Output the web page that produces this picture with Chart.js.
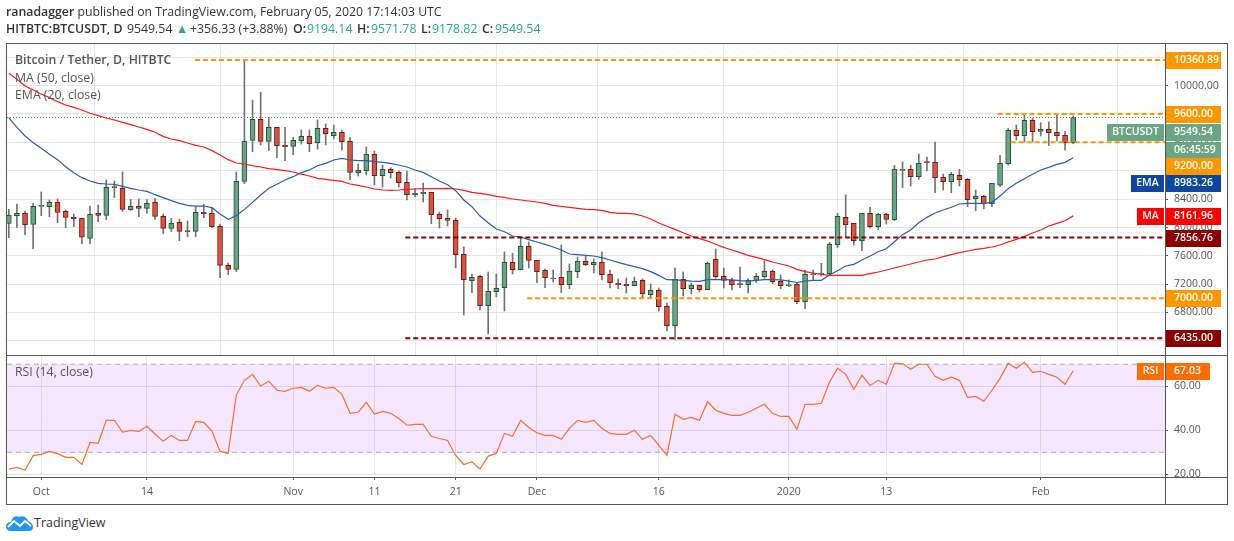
<!DOCTYPE html>
<html>
<head>
<meta charset="utf-8">
<title>BTCUSDT</title>
<script src="https://cdn.jsdelivr.net/npm/chart.js@4"></script>
<style>
  html, body { margin: 0; padding: 0; background: #fff; }
  body { width: 1234px; height: 541px; position: relative; overflow: hidden; font-family: "Open Sans", sans-serif; color: #333; }
  canvas { position: absolute; left: 0; }
  .txt { position: absolute; white-space: nowrap; font-size: 12.3px; line-height: 16px; }
  .legend { color: #555; }
  .line { position: absolute; background: #555; }
  b { font-weight: 600; }
  .up { color: #26a69a; }
</style>
</head>
<body>
<canvas id="price-chart" width="1234" height="356" style="top:0"></canvas>
<canvas id="rsi-chart" width="1234" height="150" style="top:355px"></canvas>

<div style="position:absolute;left:1166px;top:478px;width:60px;height:25px;background:#fff"></div>
<div class="line" style="left:6px;top:43px;width:1222px;height:1px"></div>
<div class="line" style="left:6px;top:504px;width:1222px;height:1px"></div>
<div class="line" style="left:6px;top:43px;width:1px;height:462px"></div>
<div class="line" style="left:1227px;top:43px;width:1px;height:462px"></div>
<div class="line" style="left:1165px;top:43px;width:1px;height:461px"></div>
<div class="line" style="left:6px;top:355px;width:1222px;height:1px"></div>
<div class="line" style="left:6px;top:477px;width:1222px;height:1px"></div>

<div class="txt" style="left:6px;top:4px"><b>ranadagger</b> published on TradingView.com, February 05, 2020 17:14:03 UTC</div>
<div class="txt" style="left:6px;top:21px"><b>HITBTC:BTCUSDT, D</b></div>
<div class="txt" style="left:127px;top:21px">9549.54</div>
<div class="txt up" style="left:176px;top:21px">▲</div>
<div class="txt" style="left:190px;top:21px">+356.33 (+3.88%)</div>
<div class="txt" style="left:293px;top:21px"><b>O:</b></div>
<div class="txt up" style="left:307px;top:21px">9194.14</div>
<div class="txt" style="left:357px;top:21px"><b>H:</b></div>
<div class="txt up" style="left:371px;top:21px">9571.78</div>
<div class="txt" style="left:421px;top:21px"><b>L:</b></div>
<div class="txt up" style="left:432px;top:21px">9178.82</div>
<div class="txt" style="left:482px;top:21px"><b>C:</b></div>
<div class="txt up" style="left:495px;top:21px">9549.54</div>
<div class="txt legend" style="left:15px;top:52px"><b>Bitcoin / Tether, D, HITBTC</b></div>
<div class="txt legend" style="left:15px;top:70px">MA (50, close)</div>
<div class="txt legend" style="left:15px;top:87px">EMA (20, close)</div>
<div class="txt legend" style="left:15px;top:364px">RSI (14, close)</div>

<svg style="position:absolute;left:6px;top:514px" width="27" height="17" viewBox="0 0 27 17">
  <path d="M0 13 C0 9 3 8 5 8 C6 3 10 1 13 3 C16 1 21 3 22 7 C25 8 27 10 27 13 C27 15 26 17 23 17 L4 17 C2 17 0 15 0 13 Z" fill="#2196f3"/>
  <path d="M2 13 L8 7 L14 12 L19 7 L25 12" fill="none" stroke="#fff" stroke-width="2"/>
</svg>
<div class="txt" style="left:34px;top:515px;font-size:12.5px">TradingView</div>

<script>
// Daily candles from Sep 27 2019 to Feb 5 2020
const candleOpen = [
    8057, 8165, 8198, 8043, 8297, 8292, 8353, 8226, 8142, 8127, 7845, 8198,
    8170, 8569, 8555, 8250, 8297, 8269, 8353, 8156, 7986, 8071, 7944, 7944,
    8212, 8198, 8015, 7464, 7408, 8649, 9228, 9524, 9214, 9411, 9157, 9143,
    9223, 9284, 9195, 9397, 9294, 9341, 9214, 8772, 8800, 9030, 8729, 8819,
    8776, 8635, 8461, 8475, 8494, 8184, 8127, 8099, 7620, 7248, 7309, 6896,
    7093, 7149, 7507, 7403, 7733, 7535, 7394, 7272, 7295, 7192, 7375, 7521,
    7474, 7507, 7337, 7210, 7196, 7178, 7253, 7051, 7112, 6886, 6613, 7267,
    7135, 7182, 7121, 7549, 7309, 7253, 7196, 7192, 7253, 7305, 7380, 7239,
    7178, 7196, 6952, 7333, 7342, 7347, 7756, 8142, 8057, 7812, 8198, 8010,
    8184, 8108, 8804, 8818, 8715, 8922, 8917, 8706, 8645, 8734, 8678, 8405,
    8438, 8334, 8597, 8898, 9369, 9294, 9510, 9355, 9383, 9340, 9298, 9194.14
];
const candleHigh = [
    8254, 8330, 8226, 8339, 8499, 8386, 8400, 8245, 8189, 8130, 8301, 8315,
    8668, 8654, 8781, 8395, 8400, 8391, 8410, 8189, 8127, 8118, 8090, 8292,
    8325, 8269, 8048, 7497, 8781, 10360.89, 9797, 9905, 9547, 9411, 9411, 9270,
    9373, 9373, 9515, 9458, 9444, 9373, 9265, 8894, 9134, 9077, 8880, 8842,
    8795, 8795, 8551, 8626, 8494, 8217, 8245, 8132, 7723, 7342, 7323, 7370,
    7342, 7653, 7634, 7869, 7794, 7535, 7413, 7399, 7751, 7483, 7582, 7596,
    7554, 7653, 7399, 7272, 7286, 7300, 7272, 7201, 7145, 6933, 7427, 7370,
    7215, 7182, 7507, 7695, 7427, 7286, 7441, 7276, 7352, 7526, 7399, 7328,
    7258, 7220, 7394, 7399, 7493, 7789, 8198, 8457, 8057, 8198, 8283, 8198,
    8198, 8875, 8922, 8875, 9035, 8992, 9204, 8753, 8776, 8818, 8692, 8527,
    8452, 8621, 9016, 9397, 9444, 9594, 9538, 9477, 9486, 9608, 9354, 9571.78
];
const candleLow = [
    7855, 7996, 7897, 7700, 8165, 8151, 8066, 7996, 8010, 7770, 7770, 8080,
    8109, 8419, 8226, 8240, 8151, 8198, 8113, 7911, 7939, 7812, 7869, 7869,
    8137, 8000, 7290, 7333, 7375, 8617, 9068, 9162, 9082, 8983, 8941, 9026,
    9176, 9068, 9105, 9162, 9247, 9091, 8668, 8725, 8739, 8598, 8569, 8696,
    8569, 8386, 8433, 8358, 8052, 7991, 8019, 7427, 6764, 7079, 6834, 6496,
    7022, 6820, 7342, 7400, 7427, 7220, 7149, 7229, 7079, 7135, 7290, 7460,
    7356, 7258, 7145, 7135, 7074, 7175, 7008, 7008, 6820, 6538, 6421, 7032,
    7060, 7088, 7121, 7281, 7145, 7116, 7149, 7074, 7220, 7281, 7206, 7135,
    7163, 6924, 6853, 7262, 7314, 7314, 7714, 7859, 7751, 7671, 7991, 7968,
    8047, 8094, 8560, 8583, 8678, 8795, 8489, 8527, 8489, 8583, 8292, 8235,
    8264, 8292, 8574, 8880, 9232, 9204, 9204, 9289, 9152, 9218, 9091, 9178.82
];
const candleClose = [
    8170, 8198, 8038, 8297, 8301, 8353, 8212, 8142, 8123, 7860, 8184, 8170,
    8565, 8560, 8254, 8297, 8269, 8339, 8156, 7986, 8057, 7944, 7939, 8212,
    8193, 8010, 7464, 7408, 8649, 9214, 9524, 9214, 9411, 9153, 9138, 9228,
    9284, 9181, 9397, 9322, 9341, 9209, 8776, 8805, 9030, 8729, 8819, 8772,
    8631, 8461, 8480, 8494, 8179, 8123, 8099, 7615, 7262, 7295, 6896, 7098,
    7140, 7507, 7403, 7733, 7535, 7375, 7290, 7286, 7192, 7380, 7521, 7474,
    7507, 7333, 7220, 7187, 7178, 7239, 7065, 7112, 6881, 6613, 7267, 7135,
    7182, 7121, 7493, 7305, 7253, 7192, 7192, 7253, 7309, 7380, 7234, 7178,
    7182, 6952, 7337, 7342, 7352, 7761, 8156, 8038, 7812, 8198, 8010, 8184,
    8113, 8818, 8818, 8715, 8903, 8913, 8701, 8645, 8748, 8673, 8391, 8438,
    8334, 8621, 8903, 9369, 9294, 9510, 9350, 9383, 9336, 9294, 9195, 9549.54
];
const ma50 = [
    10173, 10088, 9994, 9938, 9881, 9830, 9773, 9726, 9693, 9656, 9609, 9576,
    9543, 9515, 9482, 9449, 9416, 9383, 9341, 9284, 9247, 9223, 9190, 9157,
    9134, 9082, 9021, 8955, 8908, 8894, 8870, 8852, 8828, 8814, 8800, 8781,
    8750, 8725, 8692, 8678, 8663, 8649, 8612, 8593, 8569, 8541, 8527, 8522,
    8527, 8537, 8541, 8546, 8546, 8546, 8551, 8541, 8522, 8494, 8480, 8461,
    8438, 8424, 8400, 8386, 8372, 8358, 8339, 8311, 8297, 8283, 8268, 8254,
    8250, 8240, 8212, 8198, 8198, 8189, 8160, 8118, 8062, 8015, 7972, 7925,
    7878, 7841, 7808, 7761, 7718, 7681, 7643, 7605, 7577, 7544, 7511, 7483,
    7455, 7408, 7375, 7356, 7337, 7323, 7323, 7323, 7323, 7323, 7347, 7370,
    7399, 7427, 7455, 7483, 7511, 7540, 7554, 7587, 7615, 7643, 7667, 7690,
    7704, 7723, 7751, 7793, 7831, 7873, 7920, 7963, 8019, 8057, 8094, 8161.96
];
const ema20 = [
    9547, 9411, 9289, 9195, 9115, 9030, 8955, 8856, 8772, 8701, 8654, 8621,
    8612, 8607, 8579, 8551, 8527, 8508, 8461, 8419, 8377, 8339, 8311, 8301,
    8301, 8278, 8189, 8113, 8165, 8254, 8353, 8457, 8551, 8607, 8668, 8715,
    8772, 8809, 8870, 8903, 8950, 8974, 8950, 8941, 8941, 8927, 8917, 8903,
    8880, 8852, 8809, 8776, 8715, 8654, 8602, 8518, 8386, 8292, 8160, 8066,
    7977, 7939, 7878, 7864, 7827, 7794, 7761, 7723, 7681, 7624, 7615, 7605,
    7596, 7573, 7540, 7507, 7474, 7446, 7417, 7375, 7323, 7262, 7258, 7253,
    7243, 7239, 7262, 7262, 7262, 7258, 7248, 7243, 7253, 7262, 7262, 7258,
    7243, 7220, 7243, 7253, 7253, 7328, 7389, 7455, 7478, 7540, 7595, 7657,
    7699, 7798, 7897, 7963, 8066, 8141, 8203, 8245, 8283, 8330, 8339, 8339,
    8339, 8353, 8442, 8546, 8621, 8687, 8748, 8809, 8847, 8889, 8917, 8983.26
];
const rsi14 = [
    22.4, 23.2, 22.0, 28.5, 29.1, 30.4, 29.4, 27.7, 27.7, 24.5, 34.5, 34.1,
    44.5, 44.5, 39.2, 40.0, 39.5, 41.8, 38.3, 35.0, 37.7, 35.4, 35.4, 44.1,
    43.6, 39.7, 30.4, 29.5, 56.0, 62.7, 65.4, 60.1, 62.3, 58.2, 57.7, 59.1,
    59.5, 57.7, 60.4, 59.1, 59.5, 56.3, 47.7, 48.2, 52.7, 47.4, 48.6, 47.7,
    45.4, 42.3, 42.7, 42.7, 37.3, 36.3, 35.4, 28.6, 24.5, 25.7, 22.4, 28.3,
    29.5, 38.6, 37.3, 44.5, 41.3, 38.9, 37.7, 37.7, 35.9, 40.9, 44.5, 43.6,
    44.5, 40.9, 38.6, 38.2, 38.2, 40.0, 35.9, 37.7, 33.2, 28.6, 47.3, 45.0,
    45.9, 44.5, 53.0, 49.1, 47.7, 46.8, 46.8, 48.2, 50.0, 51.8, 47.7, 46.3,
    46.3, 40.4, 51.8, 51.8, 52.3, 61.8, 68.2, 65.4, 58.6, 65.0, 60.4, 62.7,
    60.9, 70.4, 70.3, 67.7, 70.0, 70.0, 64.5, 62.7, 64.1, 62.7, 55.0, 55.4,
    53.2, 58.2, 63.6, 70.4, 68.2, 70.9, 66.3, 66.8, 65.4, 64.1, 60.9, 67.03
];

// Time axis: day index of each labelled tick
const tickDays = [4, 17, 35, 45, 55, 65, 80, 96, 108, 127];
const tickLabels = ['Oct', '14', 'Nov', '11', '21', 'Dec', '16', '2020', '13', 'Feb'];
const priceTicks = [6400, 6800, 7200, 7600, 8000, 8400, 8800, 9200, 9600, 10000, 10400];
const rsiTicks = [20, 40, 60];
const rsiBand = [70, 30];

// Horizontal levels drawn by hand on the chart, and the day where each one starts
const levelPrices = [10360.89, 9600, 9200, 7856.76, 7000, 6435];
const levelStarts = [22.9, 121.7, 123.3, 48.8, 63.8, 48.8];
const levelColors = ['#ff9800', '#ff9800', '#ff9800', '#8b0000', '#ff9800', '#8b0000'];

const lastClose = 9549.54;
const xMin = -0.22;
const xMax = 142.3;
const FONT = '"Open Sans", sans-serif';

function toLine(values) {
    return values.map((v, i) => ({ x: i, y: v }));
}

function levelLine(price, start) {
    return [{ x: start, y: price }, { x: xMax, y: price }];
}

// Price tags on the right axis, shift moves a tag away from its neighbour
const priceTags = [
    { text: '10360.89', value: 10360.89, color: '#ff9800' },
    { text: '9600.00', value: 9600, color: '#ff9800' },
    { text: '9549.54', value: 9549.54, color: '#6ba583', shift: 14, name: 'BTCUSDT', nameLeft: 1107 },
    { text: '06:45:59', value: 9549.54, color: '#6ba583', shift: 32 },
    { text: '9200.00', value: 9200, color: '#ff9800', shift: 24 },
    { text: '8983.26', value: 8983.26, color: '#0d47a1', shift: 25, name: 'EMA', nameLeft: 1131 },
    { text: '8161.96', value: 8161.96, color: '#ff0000', name: 'MA', nameLeft: 1137 },
    { text: '7856.76', value: 7856.76, color: '#8b0000' },
    { text: '7000.00', value: 7000, color: '#ff9800' },
    { text: '6435.00', value: 6435, color: '#8b0000' }
];
const rsiTags = [
    { text: '67.03', value: 67.03, color: '#ff6d00', name: 'RSI', nameLeft: 1137, right: 1210 }
];

function tagPlugin(tags, axisId) {
    return {
        id: 'tags-' + axisId,
        afterDraw(chart) {
            const ctx = chart.ctx;
            const scale = chart.scales[axisId];
            ctx.save();
            ctx.textBaseline = 'middle';
            ctx.font = '600 10.5px ' + FONT;
            tags.forEach(tag => {
                const y = Math.round(scale.getPixelForValue(tag.value)) + (tag.shift || 0);
                ctx.fillStyle = tag.color;
                ctx.fillRect(1166, y - 8, (tag.right || 1221) - 1166, 17);
                ctx.fillStyle = '#fff';
                ctx.textAlign = 'left';
                ctx.fillText(tag.text, 1174, y + 0.5);
                if (tag.name) {
                    ctx.fillStyle = tag.color;
                    ctx.fillRect(tag.nameLeft, y - 8, 1164 - tag.nameLeft, 17);
                    ctx.fillStyle = '#fff';
                    ctx.textAlign = 'center';
                    ctx.fillText(tag.name, (tag.nameLeft + 1164) / 2, y + 0.5);
                }
            });
            ctx.restore();
        }
    };
}

function timeAxis(showLabels) {
    return {
        type: 'linear',
        offset: false,
        min: xMin,
        max: xMax,
        afterBuildTicks(axis) {
            axis.ticks = tickDays.map(d => ({ value: d }));
        },
        afterFit(axis) {
            axis.height = showLabels ? 27 : 0;
            axis.paddingLeft = 0;
            axis.paddingRight = 0;
        },
        grid: { color: '#e6e6e6', drawTicks: showLabels, tickLength: 3, tickColor: '#555' },
        border: { display: false },
        ticks: {
            display: showLabels,
            autoSkip: false,
            maxRotation: 0,
            padding: 6,
            color: '#555',
            font: { family: FONT, size: 10.5 },
            callback: value => tickLabels[tickDays.indexOf(value)]
        }
    };
}

function valueAxis(min, max, ticks, gridColor) {
    return {
        position: 'right',
        min: min,
        max: max,
        afterBuildTicks(axis) {
            axis.ticks = ticks.map(v => ({ value: v }));
        },
        afterFit(axis) {
            axis.width = 62;
            axis.paddingTop = 0;
            axis.paddingBottom = 0;
        },
        grid: { color: gridColor, tickLength: 3, tickColor: '#555' },
        border: { display: false },
        ticks: {
            padding: 6,
            crossAlign: 'near',
            color: '#555',
            font: { family: FONT, size: 10.5 },
            callback: value => value.toFixed(2)
        }
    };
}

const upDay = candleClose.map((c, i) => c >= candleOpen[i]);

const priceChart = new Chart(document.getElementById('price-chart'), {
    type: 'bar',
    data: {
        datasets: [
            ...levelPrices.map((price, n) => ({
                type: 'line',
                data: levelLine(price, levelStarts[n]),
                borderColor: levelColors[n],
                borderWidth: 2,
                borderDash: [5, 3],
                pointRadius: 0,
                order: 1
            })),
            {
                type: 'line',
                data: levelLine(lastClose, xMin),
                borderColor: '#4f8a68',
                borderWidth: 1,
                borderDash: [1, 2],
                pointRadius: 0,
                order: 6
            },
            {
                type: 'line',
                data: toLine(ema20),
                borderColor: '#2a5db0',
                borderWidth: 1.2,
                pointRadius: 0,
                tension: 0,
                order: 2
            },
            {
                type: 'line',
                data: toLine(ma50),
                borderColor: '#ff1a1a',
                borderWidth: 1.2,
                pointRadius: 0,
                tension: 0,
                order: 3
            },
            {
                // body
                data: candleOpen.map((o, i) => ({ x: i, y: [o, candleClose[i]] })),
                grouped: false,
                barThickness: 5,
                minBarLength: 1,
                borderWidth: 1,
                borderSkipped: false,
                backgroundColor: upDay.map(up => up ? '#6ba583' : '#d75442'),
                borderColor: upDay.map(up => up ? '#225437' : '#6f1d12'),
                order: 4
            },
            {
                // wick
                data: candleLow.map((l, i) => ({ x: i, y: [l, candleHigh[i]] })),
                grouped: false,
                barThickness: 1,
                borderWidth: 0,
                backgroundColor: '#737375',
                order: 5
            }
        ]
    },
    options: {
        responsive: false,
        animation: false,
        layout: { padding: { left: 7, right: 7, top: 44, bottom: 1 } },
        plugins: { legend: { display: false }, tooltip: { enabled: false } },
        scales: {
            x: timeAxis(false),
            y: valueAxis(6199.6, 10586.6, priceTicks, '#e6e6e6')
        }
    },
    plugins: [tagPlugin(priceTags, 'y')]
});

const rsiChart = new Chart(document.getElementById('rsi-chart'), {
    type: 'line',
    data: {
        datasets: [
            {
                data: toLine(rsi14),
                borderColor: '#ff6d2a',
                borderWidth: 1.2,
                pointRadius: 0,
                tension: 0,
                order: 1
            },
            {
                data: levelLine(rsiBand[0], xMin),
                borderColor: '#b5adbb',
                borderWidth: 1,
                borderDash: [5, 4],
                pointRadius: 0,
                backgroundColor: 'rgba(153, 21, 255, 0.1)',
                fill: '+1',
                order: 2
            },
            {
                data: levelLine(rsiBand[1], xMin),
                borderColor: '#b5adbb',
                borderWidth: 1,
                borderDash: [5, 4],
                pointRadius: 0,
                order: 3
            }
        ]
    },
    options: {
        responsive: false,
        animation: false,
        layout: { padding: { left: 7, right: 7, top: 0, bottom: 1 } },
        plugins: { legend: { display: false }, tooltip: { enabled: false } },
        scales: {
            x: timeAxis(true),
            y: valueAxis(18.8, 74.2, rsiTicks, '#e6e6e6')
        }
    },
    plugins: [tagPlugin(rsiTags, 'y')]
});
</script>
</body>
</html>
